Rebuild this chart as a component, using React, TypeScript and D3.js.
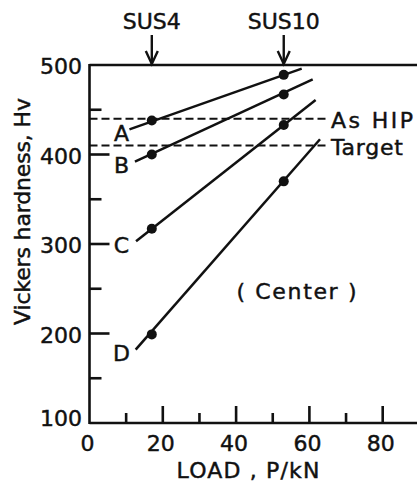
import * as d3 from "d3";

// load (kN) at which each steel reaches the hardness
const loads = [17, 53];
const steels = ["SUS4", "SUS10"];

// measured Vickers hardness at the two loads, per series
const series = ["A", "B", "C", "D"];
const hvAtLoads = [
  [438, 489],
  [400, 467],
  [317, 433],
  [199, 370],
];
// drawn fit lines: [load, Hv] at each end
const fitStart = [
  [10.9, 428],
  [12.4, 392],
  [12.7, 303],
  [12.6, 182],
];
const fitEnd = [
  [57.9, 496],
  [60.9, 484],
  [61.7, 461],
  [62.9, 417],
];

const refValues = [440, 410];
const refLabels = ["As HIP", "Target"];

const xTicks = [0, 20, 40, 60, 80];
const xMinor = [10, 30, 50, 70];
const yTicks = [100, 200, 300, 400, 500];
const yMinor = [150, 250, 350, 450];

const W = 417;
const H = 483;
const FONT = "DejaVu Sans";

export default function App() {
  const x = d3.scaleLinear().domain([0, 100]).range([89.5, 456]);
  const y = d3.scaleLinear().domain([100, 500]).range([423, 65]);
  const line = d3
    .line<number[]>()
    .x((d) => x(d[0]))
    .y((d) => y(d[1]));

  const x0 = x(0);
  const yTop = y(500);
  const yBot = y(100);
  const ink = "#111";

  return (
    <svg
      width={W}
      height={H}
      style={{ position: "absolute", left: 0, top: 0, background: "#fff" }}
      fontFamily={FONT}
      fontSize={22}
    >
      {/* frame */}
      <g stroke={ink} strokeWidth={2.6} fill="none">
        <line x1={x0} y1={yTop} x2={W + 5} y2={yTop} />
        <line x1={x0} y1={yBot} x2={W + 5} y2={yBot} />
        <line x1={x0} y1={yTop - 1} x2={x0} y2={yBot + 1} />
        {yTicks.slice(1, -1).map((t) => (
          <line key={"ym" + t} x1={x0} x2={x0 + 20} y1={y(t)} y2={y(t)} />
        ))}
        {yMinor.map((t) => (
          <line key={"yn" + t} x1={x0} x2={x0 + 12} y1={y(t)} y2={y(t)} />
        ))}
        {xTicks.slice(1).map((t) => (
          <line key={"xm" + t} x1={x(t)} x2={x(t)} y1={yBot} y2={yBot - 17} />
        ))}
        {xMinor.map((t) => (
          <line key={"xn" + t} x1={x(t)} x2={x(t)} y1={yBot} y2={yBot - 10} />
        ))}
      </g>

      <g fill={ink} stroke={ink} strokeWidth={0.45}>
        {/* tick labels */}
        {yTicks.map((t) => (
          <text
            key={"yl" + t}
            x={82}
            y={t === 100 ? y(t) + 3 : y(t) + 9}
            textAnchor="end"
          >
            {t}
          </text>
        ))}
        {xTicks.map((t) => (
          <text key={"xl" + t} x={x(t) - 2} y={451} textAnchor="middle">
            {t}
          </text>
        ))}
        <text x={176.5} y={478} textLength={143} lengthAdjust="spacing">
          LOAD , P/kN
        </text>
        <text
          transform="translate(30,325) rotate(-90)"
          textLength={227}
          lengthAdjust="spacing"
        >
          Vickers hardness, Hv
        </text>

        {/* reference level labels */}
        {refValues.map((v, i) => (
          <text
            key={"rl" + i}
            x={331}
            y={y(v) + 9}
            textLength={i === 0 ? 82 : 72}
            lengthAdjust="spacing"
          >
            {refLabels[i]}
          </text>
        ))}

        {/* steel labels */}
        {steels.map((s, i) => (
          <text key={s} x={x(loads[i])} y={29} textAnchor="middle">
            {s}
          </text>
        ))}

        {/* series letters */}
        {series.map((name, i) => (
          <text
            key={name}
            x={121.5}
            y={y(fitStart[i][1]) + 11.5}
            textAnchor="middle"
          >
            {name}
          </text>
        ))}

        <text x={236.5} y={299} textLength={120} lengthAdjust="spacing">
          ( Center )
        </text>
      </g>

      {/* reference levels */}
      {refValues.map((v, i) => (
        <line
          key={"ref" + i}
          x1={x0}
          x2={329}
          y1={y(v)}
          y2={y(v)}
          stroke={ink}
          strokeWidth={2}
          strokeDasharray="8,4"
        />
      ))}

      {/* steel arrows */}
      {steels.map((s, i) => {
        const px = x(loads[i]);
        return (
          <g key={s} stroke={ink} strokeWidth={2.4} fill="none">
            <line x1={px} x2={px} y1={35} y2={yTop - 1} />
            <polyline
              points={`${px - 6},${51} ${px},${yTop - 1} ${px + 6},${51}`}
            />
          </g>
        );
      })}

      {/* series */}
      {series.map((name, i) => (
        <g key={name}>
          <path
            d={line([fitStart[i], fitEnd[i]]) ?? ""}
            stroke={ink}
            strokeWidth={2.5}
            fill="none"
          />
          {hvAtLoads[i].map((hv, j) => (
            <circle key={j} cx={x(loads[j])} cy={y(hv)} r={5} fill={ink} />
          ))}
        </g>
      ))}
    </svg>
  );
}
